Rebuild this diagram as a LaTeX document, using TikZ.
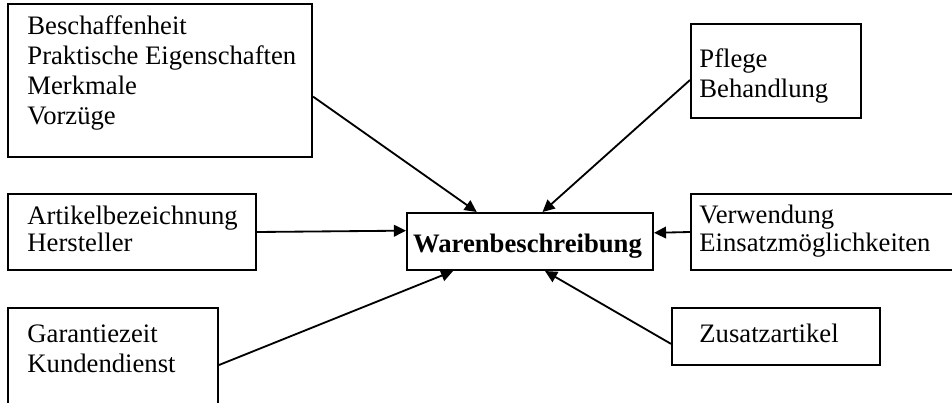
\documentclass[tikz,border=0pt]{standalone}
\usepackage{fontspec}
\setmainfont{Liberation Serif}
\usetikzlibrary{arrows.meta}
\tikzset{
  box/.style n args={2}{draw, rectangle, line width=0.95pt, inner sep=0pt,
    minimum width=#1*0.465pt, minimum height=#2*0.465pt},
  txt/.style={anchor=base west, inner sep=0pt, align=left},
  conn/.style={line width=0.85pt, -{Triangle[length=5.6pt,width=5.4pt]}}
}

\begin{document}
\begin{tikzpicture}[x=0.465pt, y=-0.465pt]
  \useasboundingbox (0,0) rectangle (952,402);
  \clip (0,0) rectangle (952,402);

  % boxes
  \node[box={304}{153}] (beschaffenheit) at (160,80.5) {};
  \node[box={170}{94}]  (pflege)         at (776,71) {};
  \node[box={248}{76}]  (artikel)        at (132,232) {};
  \node[box={246}{57}]  (ware)           at (530,241.5) {};
  \node[box={271}{76}]  (verwendung)     at (826.5,232) {};
  \node[box={210}{114}] (garantie)       at (113,365) {};
  \node[box={208}{57}]  (zusatz)         at (776,336.5) {};

  % texts (placed at the baseline of their last line)
  \node[txt, font=\fontsize{12.4}{13.9}\selectfont] (beschaffenheit-txt) at (27,124.5)
    {Beschaffenheit\\Praktische Eigenschaften\\Merkmale\\Vorzüge};
  \node[txt, font=\fontsize{12.4}{13.9}\selectfont] (pflege-txt) at (699,97)
    {Pflege\\Behandlung};
  \node[txt, font=\fontsize{12.4}{12.2}\selectfont] (artikel-txt) at (27,251)
    {Artikelbezeichnung\\Hersteller};
  \node[txt, font=\fontsize{12.4}{13}\selectfont] (verwendung-txt) at (699,251)
    {Verwendung\\Einsatzmöglichkeiten};
  \node[txt, font=\fontsize{12.4}{13.5}\selectfont] (garantie-txt) at (27,372)
    {Garantiezeit\\Kundendienst};
  \node[txt, font=\fontsize{12.4}{13.8}\selectfont] (zusatz-txt) at (699,342)
    {Zusatzartikel};
  \node[anchor=base, inner sep=0pt, font=\fontsize{12.4}{13.8}\selectfont\bfseries] (ware-txt) at (527.5,252)
    {Warenbeschreibung};

  % connectors
  \draw[conn] (beschaffenheit.-6.2) -- (ware.151.3);
  \draw[conn] (pflege.186.7) -- (ware.67.2);
  \draw[conn] (artikel.east) -- (ware.175.6);
  \draw[conn] (verwendung.west) -- (ware.4.4);
  \draw[conn] (garantie.east) -- (ware.201.6);
  \draw[conn] (zusatz.184.7) -- (ware.297.8);
\end{tikzpicture}
\end{document}
